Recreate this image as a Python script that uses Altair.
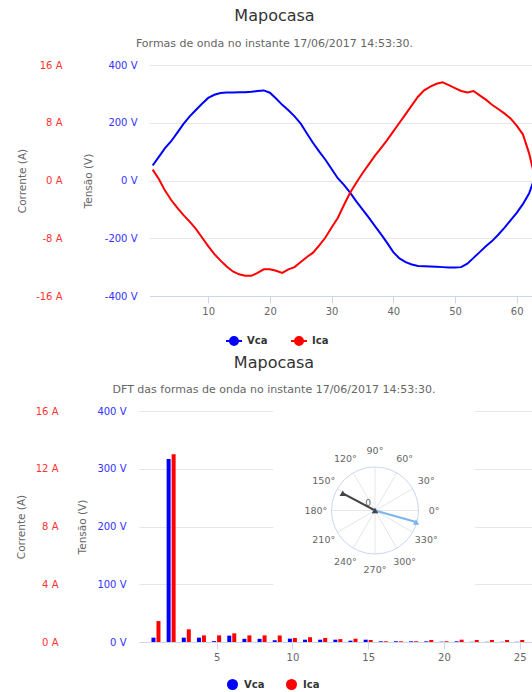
import altair as alt
import pandas as pd

FONT = "DejaVu Sans"
AXIS_LINE = "#ccd6eb"
GRID = "#e6e6e6"
TEXT_DARK = "#333333"
TEXT_MID = "#666666"

# ---- waveform samples (one cycle) ----
amostras = list(range(1, 65))
vca_onda = [52, 82, 112, 136, 166, 196, 222, 244, 266, 286, 297, 303, 305, 305, 306, 306,
            307, 310, 312, 304, 284, 262, 243, 222, 197, 163, 130, 100, 72, 40, 8, -15,
            -42, -72, -100, -128, -157, -186, -216, -248, -270, -283, -291, -296, -297, -298,
            -299, -300, -301, -301, -300, -288, -268, -248, -228, -210, -188, -164, -138,
            -112, -82, -45, 15, 75]
ica_onda = [1.5, 0.2, -1.4, -2.7, -3.8, -4.8, -5.7, -6.7, -7.9, -9.1, -10.2, -11.1, -11.9,
            -12.6, -13.0, -13.2, -13.2, -12.8, -12.3, -12.3, -12.5, -12.8, -12.3, -12.0,
            -11.3, -10.6, -10.0, -9.0, -7.9, -6.5, -5.2, -3.4, -1.7, -0.3, 1.0, 2.2, 3.4,
            4.5, 5.6, 6.8, 8.0, 9.2, 10.4, 11.6, 12.5, 13.0, 13.4, 13.6, 13.2, 12.8, 12.4,
            12.2, 12.4, 11.8, 11.2, 10.5, 9.9, 9.3, 8.6, 7.6, 6.4, 3.8, 0.2, -3.0]

# ---- DFT magnitudes per harmonic ----
harmonicas = list(range(1, 26))
vca_dft = [7.5, 317, 7.5, 7.5, 1.5, 11, 5.5, 5.5, 3, 5.8, 4, 4, 4, 2.3, 4, 1.2, 1.2, 1.2,
           1.2, 0.5, 1.2, 0.3, 0.3, 0.3, 0.3]
ica_dft = [1.45, 13.0, 0.88, 0.46, 0.46, 0.6, 0.46, 0.46, 0.45, 0.28, 0.33, 0.28, 0.2,
           0.23, 0.14, 0.05, 0.05, 0.05, 0.14, 0.05, 0.16, 0.14, 0.14, 0.14, 0.14]

# ---- phasor diagram ----
angulos_grade = [0, 30, 60, 90, 120, 150, 180, 210, 240, 270, 300, 330]
rotulos_grade = ["0°", "30°", "60°", "90°", "120°", "150°", "180°", "210°", "240°",
                 "270°", "300°", "330°"]
fasores_serie = ["Vca", "Ica"]
fasores_ang = [-15.7, 152.0]
fasores_mod = [0.98, 0.84]
raio_ticks = [0]

series = ["Vca", "Ica"]
cores_onda = ["#0000ff", "#ff0000"]
cores_fasor = ["#7cb5ec", "#434348"]

TITULO = "Mapocasa"
SUB_ONDA = "Formas de onda no instante 17/06/2017 14:53:30."
SUB_DFT = "DFT das formas de onda no instante 17/06/2017 14:53:30."

LINE_DOT = ("M-1,0L1,0"
            "M-0.5,0A0.5,0.5,0,1,0,0.5,0A0.5,0.5,0,1,0,-0.5,0"
            "M-0.25,0A0.25,0.25,0,1,0,0.25,0A0.25,0.25,0,1,0,-0.25,0")
LINE_TRI = ("M-1,0L1,0"
            "M0,-0.45L0.45,0.35L-0.45,0.35Z"
            "M0,-0.2L0.2,0.15L-0.2,0.15Z")


def titulo(sub, pad, off):
    return alt.Title(TITULO, subtitle=sub, font=FONT, fontSize=16, fontWeight="normal",
                     color=TEXT_DARK, subtitleFont=FONT, subtitleFontSize=11,
                     subtitleColor=TEXT_MID, subtitlePadding=pad, anchor="middle",
                     frame="bounds", offset=off)


def eixo_y(vals, suf, cor, offset, pad, nome, tx, ty, grid):
    return alt.Axis(values=vals, labelExpr=f"datum.value + ' {suf}'", labelColor=cor,
                    labelFont=FONT, labelFontSize=10, labelPadding=pad, domain=False,
                    ticks=False, grid=grid, gridColor=GRID, orient="left", offset=offset,
                    title=nome, titleFont=FONT, titleFontSize=10.5, titleFontWeight="normal",
                    titleColor=TEXT_MID, titleAngle=-90, titleX=tx, titleY=ty,
                    titleAlign="center", titleBaseline="middle")


def eixo_x(vals):
    return alt.Axis(values=vals, title=None, grid=False, domainColor=AXIS_LINE,
                    tickColor=AXIS_LINE, tickSize=7, labelPadding=3, labelColor=TEXT_MID,
                    labelFont=FONT, labelFontSize=10, labelFlush=False)


# ================= waveform panel =================
W1, H1 = 393, 231
X_INI, X_GRADE, X_FIM = -1.216, 0.57, 62.48
onda = pd.DataFrame({"amostra": amostras, "Vca": vca_onda, "Ica": ica_onda})
esc_amostra = alt.Scale(domain=[X_INI, X_FIM], nice=False, zero=False)
x_onda = alt.X("amostra:Q", scale=esc_amostra, axis=eixo_x([10, 20, 30, 40, 50, 60]))
leg_onda = alt.Legend(title=None, orient="none", legendX=86, legendY=267,
                      direction="horizontal", symbolType=LINE_DOT, symbolSize=256,
                      symbolStrokeWidth=2, labelFont=FONT, labelFontSize=10,
                      labelFontWeight="bold", labelColor=TEXT_DARK, labelOffset=4,
                      columnPadding=19)
cor_onda = alt.Color("serie:N", scale=alt.Scale(domain=series, range=cores_onda),
                     legend=leg_onda)
esc_v1 = alt.Scale(domain=[-400, 400], nice=False)

linha_v = alt.Chart(onda).transform_calculate(serie="'Vca'").mark_line(
    strokeWidth=2, clip=True).encode(
    x=x_onda,
    y=alt.Y("Vca:Q", scale=esc_v1,
            axis=eixo_y([-400, -200, 0, 200, 400], "V", "#3333ff", 0, 2, "Tensão (V)",
                        -51, H1 / 2, True)),
    color=cor_onda)
linha_i = alt.Chart(onda).transform_calculate(serie="'Ica'").mark_line(
    strokeWidth=2, clip=True).encode(
    x=x_onda,
    y=alt.Y("Ica:Q", scale=alt.Scale(domain=[-16, 16], nice=False),
            axis=eixo_y([-16, -8, 0, 8, 16], "A", "#ff3333", 64, 13, "Corrente (A)",
                        -53, H1 / 2, False)),
    color=cor_onda)

# white margin between the axis labels and the start of the grid
margem = pd.DataFrame({"a0": [X_INI], "a1": [X_GRADE], "v0": [-412], "v1": [400]})
mascara = alt.Chart(margem).mark_rect(color="white").encode(
    x=alt.X("a0:Q", scale=esc_amostra), x2="a1:Q",
    y=alt.Y("v0:Q", scale=esc_v1, axis=None), y2="v1:Q")

painel_onda = alt.layer(linha_v, linha_i, mascara).resolve_scale(
    y="independent").properties(width=W1, height=H1, title=titulo(SUB_ONDA, 14, 11))

# ================= DFT panel =================
W2, H2 = 393, 231
dft = pd.DataFrame({"harmonica": harmonicas, "Vca": vca_dft, "Ica": ica_dft})
esc_h = alt.Scale(domain=[0.21, 25.48], nice=False, zero=False)
leg_dft = alt.Legend(title=None, orient="none", legendX=88, legendY=268,
                     direction="horizontal", symbolType="circle", symbolSize=121,
                     symbolStrokeWidth=0, labelFont=FONT, labelFontSize=10,
                     labelFontWeight="bold", labelColor=TEXT_DARK, labelOffset=6,
                     columnPadding=21)
cor_dft = alt.Color("serie:N", scale=alt.Scale(domain=series, range=cores_onda),
                    legend=leg_dft)

barras_v = alt.Chart(dft).transform_calculate(serie="'Vca'").mark_bar(
    size=4, xOffset=-2.5, clip=True).encode(
    x=alt.X("harmonica:Q", scale=esc_h, axis=eixo_x([5, 10, 15, 20, 25])),
    y=alt.Y("Vca:Q", scale=alt.Scale(domain=[0, 400], nice=False),
            axis=eixo_y([0, 100, 200, 300, 400], "V", "#3333ff", 0, 13, "Tensão (V)",
                        -57, H2 / 2, True)),
    color=cor_dft)
barras_i = alt.Chart(dft).transform_calculate(serie="'Ica'").mark_bar(
    size=4, xOffset=2.5, clip=True).encode(
    x=alt.X("harmonica:Q", scale=esc_h, axis=None),
    y=alt.Y("Ica:Q", scale=alt.Scale(domain=[0, 16], nice=False),
            axis=eixo_y([0, 4, 8, 12, 16], "A", "#ff3333", 68, 13, "Corrente (A)",
                        -50, H2 / 2, False)),
    color=cor_dft)

# phasor inset: unit circle mapped into the upper-right area of the DFT panel
px = alt.Scale(domain=[-1, 1], range=[192.5, 279.5], nice=False, zero=False)
py = alt.Scale(domain=[-1, 1], range=[143, 56], nice=False, zero=False)


def pxy(campo_x, campo_y):
    return dict(x=alt.X(f"{campo_x}:Q", scale=px, axis=None),
                y=alt.Y(f"{campo_y}:Q", scale=py, axis=None))


moldura = pd.DataFrame({"x0": [-2.34], "x1": [2.3], "y0": [2.45], "y1": [-2.1]})
fundo = alt.Chart(moldura).mark_rect(color="white").encode(
    **pxy("x0", "y0"), x2="x1:Q", y2="y1:Q")

grade = pd.DataFrame({"ang": angulos_grade, "rotulo": rotulos_grade})
raios = alt.Chart(grade).transform_calculate(
    cx="0", cy="0",
    ex="cos(datum.ang*PI/180)", ey="sin(datum.ang*PI/180)").mark_rule(
    color=GRID, strokeWidth=1).encode(**pxy("cx", "cy"), x2="ex:Q", y2="ey:Q")

centro = pd.DataFrame({"r": raio_ticks})
circulo = alt.Chart(centro).transform_calculate(cx="0", cy="0").mark_point(
    shape="circle", size=87 * 87, filled=False, color=AXIS_LINE, strokeWidth=1,
    opacity=1).encode(**pxy("cx", "cy"))

rotulos = alt.Chart(grade).transform_calculate(
    lx="1.36*cos(datum.ang*PI/180)", ly="1.36*sin(datum.ang*PI/180)").mark_text(
    font=FONT, fontSize=9.5, color=TEXT_MID, align="center", baseline="middle").encode(
    **pxy("lx", "ly"), text="rotulo:N")

zero_lbl = alt.Chart(centro).transform_calculate(cx="0", cy="0").mark_text(
    font=FONT, fontSize=9, color=TEXT_MID, dx=-7, dy=-8).encode(
    **pxy("cx", "cy"), text="r:Q")

fasores = pd.DataFrame({"serie": fasores_serie, "ang": fasores_ang, "mod": fasores_mod})
leg_fasor = alt.Legend(title=None, orient="none", legendX=187, legendY=166,
                       direction="horizontal", symbolType=LINE_TRI, symbolSize=196,
                       symbolStrokeWidth=2, labelFont=FONT, labelFontSize=9.5,
                       labelFontWeight="bold", labelColor=TEXT_DARK, labelOffset=5,
                       columnPadding=20)
setas = alt.Chart(fasores).transform_calculate(
    cx="0", cy="0",
    ex="datum.mod*cos(datum.ang*PI/180)", ey="datum.mod*sin(datum.ang*PI/180)").mark_rule(
    strokeWidth=2).encode(
    **pxy("cx", "cy"), x2="ex:Q", y2="ey:Q",
    stroke=alt.Stroke("serie:N", scale=alt.Scale(domain=series, range=cores_fasor),
                      legend=leg_fasor))

marcadores = pd.DataFrame({
    "serie": fasores_serie + fasores_serie,
    "ang": fasores_ang + fasores_ang,
    "mod": [0, 0] + fasores_mod,
})
pontas = alt.Chart(marcadores).transform_calculate(
    ex="datum.mod*cos(datum.ang*PI/180)", ey="datum.mod*sin(datum.ang*PI/180)").mark_point(
    shape="triangle-up", filled=True, size=40, opacity=1).encode(
    **pxy("ex", "ey"),
    fill=alt.Fill("serie:N", scale=alt.Scale(domain=series, range=cores_fasor),
                  legend=None))

painel_dft = alt.layer(fundo, barras_v, barras_i, raios, circulo, rotulos, zero_lbl,
                       setas, pontas).resolve_scale(
    x="independent", y="independent").properties(
    width=W2, height=H2, title=titulo(SUB_DFT, 13, 9))

chart = alt.vconcat(painel_onda, painel_dft, spacing=5).resolve_scale(
    color="independent", stroke="independent", fill="independent").resolve_legend(
    color="independent", stroke="independent", fill="independent").properties(
    padding={"left": 16, "top": 8, "right": 0, "bottom": 0},
    background="white").configure_view(stroke=None)

chart.save("out.html", embed_options={"renderer": "svg", "actions": False})
